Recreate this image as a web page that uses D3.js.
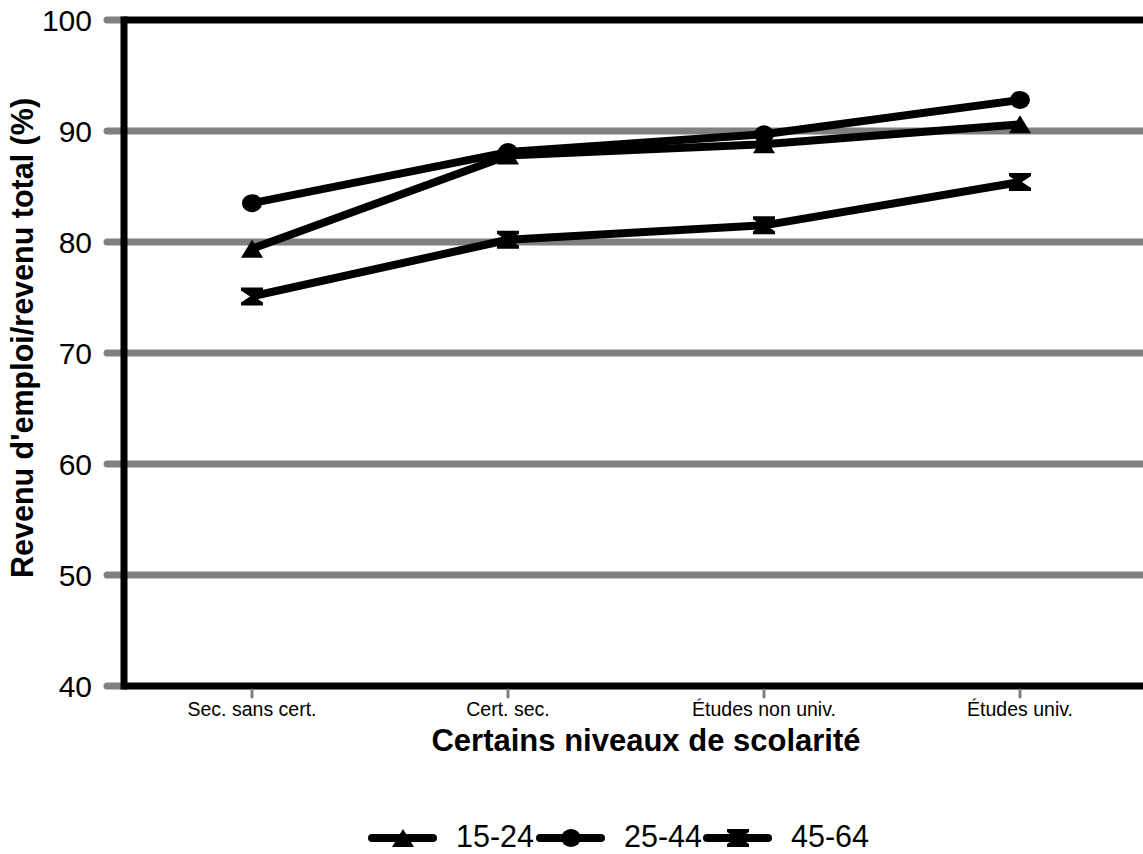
<!DOCTYPE html>
<html><head><meta charset="utf-8">
<script src="https://cdn.jsdelivr.net/npm/d3@7"></script>
<style>body{margin:0;background:#fff}svg{display:block;font-family:"Liberation Sans",Arial,sans-serif}</style>
</head><body>
<script>
const categories = ["Sec. sans cert.", "Cert. sec.", "Études non univ.", "Études univ."];
const seriesNames = ["15-24", "25-44", "45-64"];
const s1524 = [79.4, 87.8, 88.8, 90.6];
const s2544 = [83.5, 88.1, 89.7, 92.8];
const s4564 = [75.1, 80.2, 81.5, 85.4];
const yTicks = [40, 50, 60, 70, 80, 90, 100];
const markerTypes = ["triangle", "circle", "hourglass"];

const W = 1143, H = 854;
const svg = d3.select("body").append("svg").attr("width", W).attr("height", H);
const x = d3.scalePoint().domain(categories).range([124, 1148]).padding(0.5);
const y = d3.scaleLinear().domain([40, 100]).range([686, 20]);

// gridlines (gray)
svg.append("g").selectAll("line").data(yTicks).join("line")
  .attr("x1", 107).attr("x2", d => (d === 40 || d === 100) ? 124 : 1150)
  .attr("y1", d => y(d)).attr("y2", d => y(d))
  .attr("stroke", "#808080").attr("stroke-width", 7).attr("stroke-linecap", "round");

// y tick labels
svg.append("g").selectAll("text").data(yTicks).join("text")
  .attr("x", 92).attr("y", d => y(d) + 11).attr("text-anchor", "end")
  .attr("font-size", 30).text(d => d);

// frame: left, bottom, top
svg.append("line").attr("x1", 124).attr("x2", 1150).attr("y1", y(100)).attr("y2", y(100)).attr("stroke", "#000").attr("stroke-width", 7);
svg.append("line").attr("x1", 124).attr("x2", 1150).attr("y1", y(40)).attr("y2", y(40)).attr("stroke", "#000").attr("stroke-width", 7);
svg.append("line").attr("x1", 124).attr("x2", 124).attr("y1", y(100) - 3.5).attr("y2", y(40) + 3.5).attr("stroke", "#000").attr("stroke-width", 7);

// x ticks
svg.append("g").selectAll("line").data(categories).join("line")
  .attr("x1", d => x(d)).attr("x2", d => x(d)).attr("y1", 690).attr("y2", 697)
  .attr("stroke", "#808080").attr("stroke-width", 3).attr("stroke-linecap", "round");
svg.append("g").selectAll("text").data(categories).join("text")
  .attr("x", d => x(d)).attr("y", 716).attr("text-anchor", "middle")
  .attr("font-size", 19.5).text(d => d);

// axis titles
svg.append("text").attr("x", 646).attr("y", 751).attr("text-anchor", "middle")
  .attr("font-size", 31).attr("font-weight", "bold").text("Certains niveaux de scolarité");
svg.append("text").attr("transform", "translate(33,338) rotate(-90)").attr("text-anchor", "middle")
  .attr("font-size", 30.5).attr("font-weight", "bold").text("Revenu d'emploi/revenu total (%)");

function marker(g, type) {
  if (type === "triangle") g.append("path").attr("d", "M0,-9 L11,9 L-11,9 Z");
  else if (type === "circle") g.append("ellipse").attr("rx", 10).attr("ry", 9);
  else g.append("path").attr("d", "M-11,-9 L11,-9 L11,-6 L2,0 L11,6 L11,9 L-11,9 L-11,6 L-2,0 L-11,-6 Z");
}

const allSeries = [s1524, s2544, s4564];
const line = d3.line().x((d, i) => x(categories[i])).y(d => y(d));
allSeries.forEach((vals, si) => {
  svg.append("path").datum(vals).attr("d", line).attr("fill", "none")
    .attr("stroke", "#000").attr("stroke-width", 8).attr("stroke-linejoin", "round");
  vals.forEach((v, i) => {
    const g = svg.append("g").attr("transform", `translate(${x(categories[i])},${y(v)})`).attr("fill", "#000");
    marker(g, markerTypes[si]);
  });
});

// legend
const legX = [372, 540, 707];
seriesNames.forEach((name, i) => {
  const g = svg.append("g");
  g.append("line").attr("x1", legX[i]).attr("x2", legX[i] + 61).attr("y1", 838).attr("y2", 838)
    .attr("stroke", "#000").attr("stroke-width", 8).attr("stroke-linecap", "round");
  const m = g.append("g").attr("transform", `translate(${legX[i] + 31},838)`).attr("fill", "#000");
  marker(m, markerTypes[i]);
  g.append("text").attr("x", legX[i] + 84).attr("y", 847)
    .attr("font-size", 30.5).text(name);
});
</script>
</body></html>
